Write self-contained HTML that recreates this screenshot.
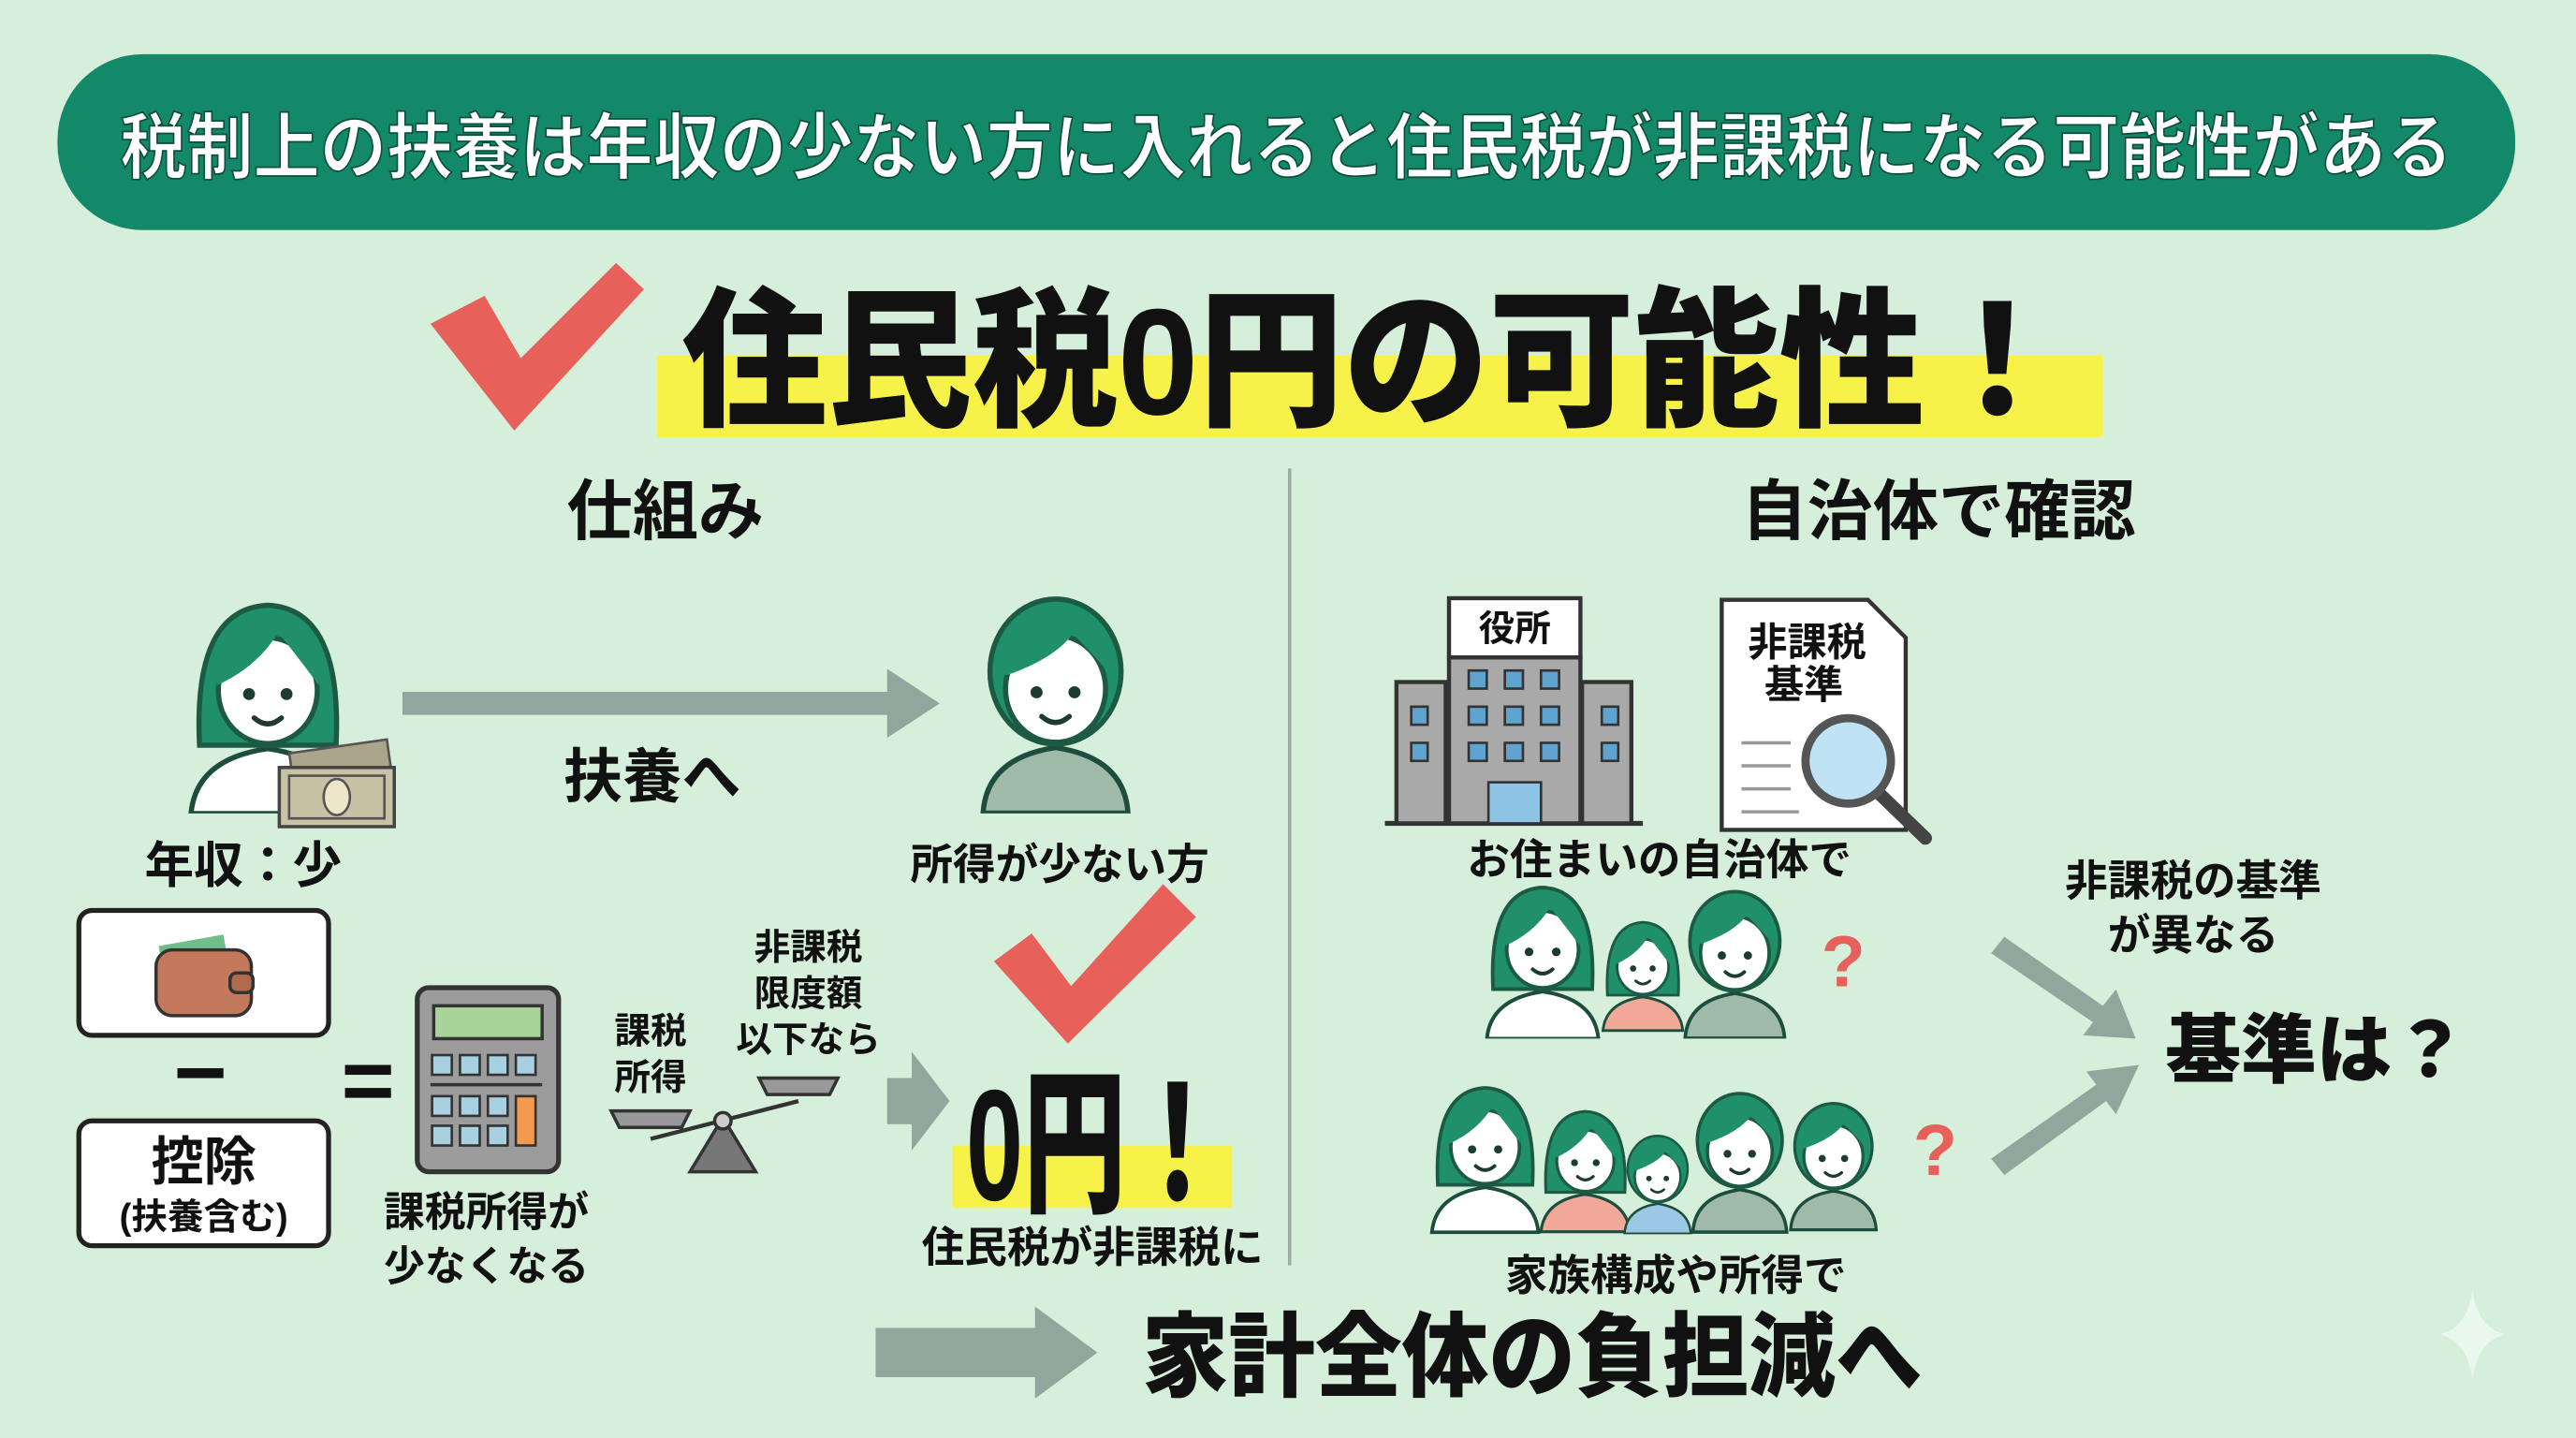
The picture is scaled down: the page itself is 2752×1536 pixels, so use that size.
<!DOCTYPE html>
<html><head><meta charset="utf-8"><style>
html,body{margin:0;padding:0;background:#d6efdb;}
svg{display:block;}
text{font-family:"Liberation Sans","Noto Sans CJK JP",sans-serif;font-weight:700;fill:#111;}
</style></head><body>
<svg width="2752" height="1536" viewBox="0 0 1568 875" preserveAspectRatio="none" xmlns="http://www.w3.org/2000/svg">
<defs>
<symbol id="p" viewBox="0 0 100 130">
  <path d="M8 130 Q10 98 50 92 Q90 98 92 130 Z" fill="currentColor" stroke="#1d4d3c" stroke-width="3"/>
  <ellipse cx="50" cy="48" rx="38" ry="42" fill="#1f9069" stroke="#1d5a44" stroke-width="3"/>
  <ellipse cx="50" cy="58" rx="29" ry="31" fill="#fff" stroke="#1d5a44" stroke-width="3"/>
  <path d="M18 50 Q20 12 50 10 Q82 12 82 50 Q70 36 60 26 Q50 40 22 50 Z" fill="#1f9069"/>
  <circle cx="39" cy="60" r="3.5" fill="#1d3b30"/><circle cx="61" cy="60" r="3.5" fill="#1d3b30"/>
  <path d="M42 74 Q50 81 58 74" fill="none" stroke="#1d3b30" stroke-width="3" stroke-linecap="round"/>
</symbol>
<symbol id="w" viewBox="0 0 100 130">
  <path d="M5 130 Q8 98 50 92 Q92 98 95 130 Z" fill="currentColor" stroke="#1d4d3c" stroke-width="3"/>
  <path d="M10 90 Q6 10 50 8 Q94 10 90 90 Z" fill="#1f9069" stroke="#1d5a44" stroke-width="3"/>
  <ellipse cx="50" cy="58" rx="29" ry="31" fill="#fff" stroke="#1d5a44" stroke-width="3"/>
  <path d="M20 55 Q18 14 50 12 Q82 14 80 55 Q66 36 56 24 Q44 44 20 55 Z" fill="#1f9069"/>
  <circle cx="39" cy="60" r="3.5" fill="#1d3b30"/><circle cx="61" cy="60" r="3.5" fill="#1d3b30"/>
  <path d="M42 74 Q50 81 58 74" fill="none" stroke="#1d3b30" stroke-width="3" stroke-linecap="round"/>
</symbol>
</defs>
<rect width="1568" height="875" fill="#d6efdb"/>
<rect x="35" y="33" width="1496" height="107" rx="52" fill="#14896a"/>
<text x="783" y="105" font-size="44" text-anchor="middle" style="fill:#fff" textLength="1420" lengthAdjust="spacingAndGlyphs" stroke="#0b4e3b" stroke-width="1">税制上の扶養は年収の少ない方に入れると住民税が非課税になる可能性がある</text>
<path d="M262 197 L295 180 L317 218 L375 160 L392 176 L313 262 Z" fill="#e8605a"/>
<rect x="400" y="216" width="880" height="50" fill="#f7f24a"/>
<text x="415" y="252" font-size="92" textLength="845" lengthAdjust="spacingAndGlyphs" style="font-weight:900">住民税0円の可能性！</text>
<line x1="785" y1="285" x2="785" y2="770" stroke="#9aaea0" stroke-width="2"/>
<text x="405" y="325" font-size="40" text-anchor="middle">仕組み</text>
<text x="1180" y="325" font-size="40" text-anchor="middle">自治体で確認</text>
<use href="#w" x="88" y="360" width="150" height="135" color="#ffffff"/>
<g transform="translate(170,462)">
  <rect x="8" y="-8" width="60" height="32" fill="#a9a48a" stroke="#555" stroke-width="1.5" transform="rotate(-8 38 8)"/>
  <rect x="0" y="5" width="70" height="36" fill="#c8c2a4" stroke="#444" stroke-width="2"/>
  <rect x="6" y="10" width="58" height="26" fill="none" stroke="#555" stroke-width="1.5"/>
  <ellipse cx="35" cy="23" rx="8" ry="11" fill="#eee6c8" stroke="#555" stroke-width="1.5"/>
</g>
<path d="M245 421 L540 421 L540 407 L572 428 L540 449 L540 435 L245 435 Z" fill="#8fa79c"/>
<text x="397" y="485" font-size="36" text-anchor="middle">扶養へ</text>
<use href="#p" x="590" y="358" width="105" height="137" color="#9fbaa8"/>
<text x="148" y="537" font-size="30" text-anchor="middle">年収：少</text>
<text x="645" y="535" font-size="26" text-anchor="middle">所得が少ない方</text>
<rect x="48" y="554" width="152" height="76" rx="8" fill="#fff" stroke="#222" stroke-width="3"/>
<rect x="98" y="572" width="40" height="20" fill="#6fbf8a" transform="rotate(-10 118 582)"/>
<rect x="95" y="578" width="58" height="40" rx="10" fill="#c47a5a" stroke="#333" stroke-width="2"/>
<rect x="140" y="592" width="14" height="12" rx="4" fill="#b06a4c" stroke="#333" stroke-width="2"/>
<rect x="108" y="650" width="28" height="6" fill="#111"/>
<rect x="48" y="682" width="152" height="76" rx="8" fill="#fff" stroke="#222" stroke-width="3"/>
<text x="124" y="718" font-size="32" text-anchor="middle">控除</text>
<text x="124" y="748" font-size="22" text-anchor="middle">(扶養含む)</text>
<rect x="210" y="648" width="28" height="6" fill="#111"/><rect x="210" y="662" width="28" height="6" fill="#111"/>
<rect x="254" y="601" width="86" height="112" rx="7" fill="#9c9c9c" stroke="#333" stroke-width="3"/>
<rect x="264" y="612" width="66" height="20" fill="#a8d49a" stroke="#333" stroke-width="2"/>
<g fill="#a9d0e0" stroke="#333" stroke-width="1.5">
<rect x="263" y="642" width="12" height="12"/><rect x="280" y="642" width="12" height="12"/><rect x="297" y="642" width="12" height="12"/><rect x="314" y="642" width="12" height="12"/>
<rect x="263" y="667" width="12" height="12"/><rect x="280" y="667" width="12" height="12"/><rect x="297" y="667" width="12" height="12"/>
<rect x="263" y="685" width="12" height="12"/><rect x="280" y="685" width="12" height="12"/><rect x="297" y="685" width="12" height="12"/>
</g>
<rect x="314" y="667" width="12" height="30" fill="#f29a4e" stroke="#333" stroke-width="1.5"/>
<line x1="262" y1="660" x2="330" y2="660" stroke="#333" stroke-width="2"/>
<text x="296" y="746" font-size="25" text-anchor="middle">課税所得が</text>
<text x="296" y="779" font-size="25" text-anchor="middle">少なくなる</text>
<text x="396" y="635" font-size="22" text-anchor="middle">課税</text>
<text x="396" y="663" font-size="22" text-anchor="middle">所得</text>
<text x="492" y="584" font-size="22" text-anchor="middle">非課税</text>
<text x="492" y="612" font-size="22" text-anchor="middle">限度額</text>
<text x="492" y="640" font-size="22" text-anchor="middle">以下なら</text>
<path d="M420 713 L440 680 L460 713 Z" fill="#777" stroke="#333" stroke-width="2"/>
<line x1="396" y1="693" x2="486" y2="670" stroke="#333" stroke-width="2.5"/>
<circle cx="440" cy="682" r="5" fill="#ccc" stroke="#333" stroke-width="2"/>
<path d="M372 676 L420 676 L415 686 L377 686 Z" fill="#999" stroke="#333" stroke-width="2"/>
<path d="M462 656 L510 656 L505 666 L467 666 Z" fill="#999" stroke="#333" stroke-width="2"/>
<path d="M540 656 L555 656 L555 640 L578 670 L555 700 L555 684 L540 684 Z" fill="#8fa79c"/>
<path d="M605 585 L628 568 L652 600 L708 538 L728 558 L650 635 Z" fill="#e8605a"/>
<rect x="580" y="697" width="170" height="38" fill="#f7f24a"/>
<text x="588" y="730" font-size="96" textLength="160" lengthAdjust="spacingAndGlyphs" style="font-weight:900">0円！</text>
<text x="665" y="768" font-size="26" text-anchor="middle">住民税が非課税に</text>
<path d="M533 808 L630 808 L630 795 L668 823 L630 851 L630 838 L533 838 Z" fill="#8fa79c"/>
<text x="695" y="845" font-size="56" textLength="475" lengthAdjust="spacingAndGlyphs" style="font-weight:900">家計全体の負担減へ</text>
<line x1="843" y1="501" x2="1000" y2="501" stroke="#333" stroke-width="3"/>
<rect x="850" y="415" width="30" height="86" fill="#a9a9a9" stroke="#333" stroke-width="2.5"/>
<rect x="963" y="415" width="30" height="86" fill="#a9a9a9" stroke="#333" stroke-width="2.5"/>
<rect x="882" y="400" width="80" height="101" fill="#a9a9a9" stroke="#333" stroke-width="2.5"/>
<rect x="882" y="364" width="80" height="36" fill="#fff" stroke="#333" stroke-width="2.5"/>
<text x="922" y="390" font-size="22" text-anchor="middle">役所</text>
<g fill="#5fa4d0" stroke="#333" stroke-width="1.5">
<rect x="894" y="408" width="11" height="11"/><rect x="916" y="408" width="11" height="11"/><rect x="938" y="408" width="11" height="11"/>
<rect x="894" y="430" width="11" height="11"/><rect x="916" y="430" width="11" height="11"/><rect x="938" y="430" width="11" height="11"/>
<rect x="894" y="452" width="11" height="11"/><rect x="916" y="452" width="11" height="11"/><rect x="938" y="452" width="11" height="11"/>
<rect x="859" y="430" width="10" height="11"/><rect x="859" y="452" width="10" height="11"/>
<rect x="975" y="430" width="10" height="11"/><rect x="975" y="452" width="10" height="11"/>
<rect x="906" y="476" width="32" height="25" fill="#8ec4e6"/>
</g>
<path d="M1048 365 L1137 365 L1160 388 L1160 505 L1048 505 Z" fill="#fff" stroke="#333" stroke-width="2.5"/>
<text x="1100" y="399" font-size="24" text-anchor="middle">非課税</text>
<text x="1098" y="425" font-size="24" text-anchor="middle">基準</text>
<g stroke="#999" stroke-width="2"><line x1="1060" y1="452" x2="1090" y2="452"/><line x1="1060" y1="466" x2="1090" y2="466"/><line x1="1060" y1="480" x2="1090" y2="480"/><line x1="1060" y1="494" x2="1095" y2="494"/></g>
<line x1="1143" y1="482" x2="1172" y2="510" stroke="#444" stroke-width="8" stroke-linecap="round"/>
<circle cx="1125" cy="463" r="26" fill="#bfe3f5" stroke="#555" stroke-width="5"/>
<text x="1010" y="532" font-size="26" text-anchor="middle">お住まいの自治体で</text>
<use href="#w" x="900" y="534" width="78" height="98" color="#ffffff"/>
<use href="#w" x="973" y="552" width="54" height="80" color="#f0a898"/>
<use href="#p" x="1020" y="538" width="72" height="94" color="#9fbaa8"/>
<text x="1122" y="600" font-size="44" text-anchor="middle" style="fill:#e8605a">?</text>
<use href="#w" x="868" y="655" width="72" height="96" color="#ffffff"/>
<use href="#w" x="935" y="670" width="60" height="81" color="#f0a898"/>
<use href="#p" x="985" y="688" width="48" height="63" color="#9cc8e6"/>
<use href="#p" x="1025" y="660" width="68" height="91" color="#9fbaa8"/>
<use href="#p" x="1085" y="665" width="62" height="86" color="#9fbaa8"/>
<text x="1178" y="715" font-size="44" text-anchor="middle" style="fill:#e8605a">?</text>
<text x="1020" y="785" font-size="26" text-anchor="middle">家族構成や所得で</text>
<text x="1335" y="545" font-size="26" text-anchor="middle">非課税の基準</text>
<text x="1335" y="578" font-size="26" text-anchor="middle">が異なる</text>
<path d="M1212 580 L1220 570 L1280 612 L1288 602 L1300 632 L1268 630 L1274 622 L1212 580 Z" fill="#8fa79c"/>
<path d="M1212 705 L1220 715 L1282 670 L1288 678 L1302 648 L1270 652 L1276 660 Z" fill="#8fa79c"/>
<text x="1410" y="655" font-size="46" text-anchor="middle" style="font-weight:900">基準は？</text>
<path d="M1505 785 Q1508 808 1525 812 Q1508 816 1505 840 Q1502 816 1485 812 Q1502 808 1505 785 Z" fill="#eaf7ec"/>
</svg>
</body></html>
